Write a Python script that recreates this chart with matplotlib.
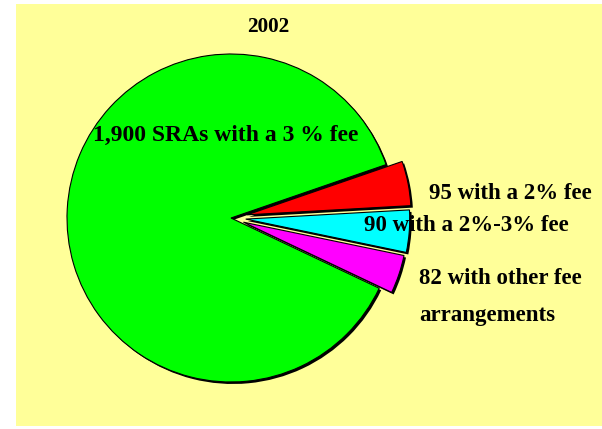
import matplotlib
matplotlib.use("Agg")
import matplotlib.pyplot as plt
from matplotlib.patches import Rectangle

# data
labels = ["95 with a 2% fee", "90 with a 2%-3% fee", "82 with other fee\narrangements", "1,900 SRAs with a 3 % fee"]
counts = [95, 90, 82, 1900]
colors = ["#FF0000", "#00FFFF", "#FF00FF", "#00FF00"]
explode = [0.1, 0.09, 0.08, 0.0]
title = "2002"

W, H = 602, 429
cx, cy, R = 231, 218, 164  # pie centre / radius in pixels (from top-left)

fig = plt.figure(figsize=(W / 100, H / 100), dpi=100)
fig.patch.set_facecolor("white")
fig.patches.append(Rectangle((16 / W, (H - 426) / H), (W - 16) / W, (426 - 4) / H,
                             transform=fig.transFigure, facecolor="#FFFF99",
                             edgecolor="none", zorder=-10))

ax = fig.add_axes([0, 0, 1, 1])
ax.patch.set_visible(False)

sh = 2.0 / R
# black drop shadow
ax.pie(counts, colors=["black"] * 4, explode=explode, startangle=19,
       counterclock=False, center=(sh, -sh), radius=1.0,
       wedgeprops=dict(linewidth=0))
ax.pie(counts, colors=colors, explode=explode, startangle=19,
       counterclock=False, radius=1.0,
       wedgeprops=dict(edgecolor="black", linewidth=0.8))

ax.set_xlim(-cx / R, (W - cx) / R)
ax.set_ylim(-(H - cy) / R, cy / R)
ax.set_aspect("auto")
ax.axis("off")

font = dict(family=["Liberation Serif", "DejaVu Serif"], weight="bold", color="black")


def px(x, y):
    return ((x - cx) / R, (cy - y) / R)


fs = 16.5
ax.text(*px(268, 27), title, ha="center", va="center", fontsize=15.3, **font)
ax.text(*px(93, 135), labels[3], ha="left", va="center", fontsize=fs + 0.5, **font)
ax.text(*px(429, 193), labels[0], ha="left", va="center", fontsize=fs, **font)
ax.text(*px(364, 225), labels[1], ha="left", va="center", fontsize=fs, **font)
first, second = labels[2].split("\n")
ax.text(*px(419, 278), first, ha="left", va="center", fontsize=fs, **font)
ax.text(*px(419, 316), second, ha="left", va="center", fontsize=fs, **font)

fig.savefig("out.png", dpi=100, facecolor=fig.get_facecolor())
